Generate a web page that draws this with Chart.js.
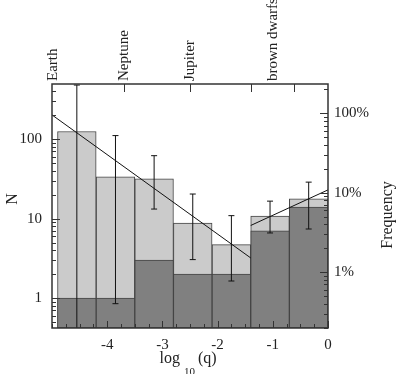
<!DOCTYPE html>
<html>
<head>
<meta charset="utf-8">
<script src="https://cdn.jsdelivr.net/npm/chart.js@4.4.0/dist/chart.umd.min.js"></script>
<style>
  body { margin: 0; background: #fff; }
</style>
</head>
<body>
<canvas id="hist" width="404" height="374"></canvas>
<script>
// histogram bins in log10(q), counts
const binCenters = [-4.55, -3.85, -3.15, -2.45, -1.75, -1.05, -0.35];
const allCounts = [125, 33.6, 31.7, 8.8, 4.7, 10.8, 17.8];
const detectedCounts = [1, 1, 3, 2, 2, 7, 14];
const errLow = [0.3, 0.85, 13.2, 3.05, 1.64, 6.6, 7.4];
const errHigh = [480, 111, 62, 20.4, 10.9, 16.6, 28.8];

// power law fits
const fitLeftX = [-5, -1.4];
const fitLeftY = [202, 3.2];
const fitRightX = [-1.4, 0];
const fitRightY = [8.2, 23];

// axes
const xTicks = [-4, -3, -2, -1, 0];
const nTicks = [1, 10, 100];
const nTickLabels = ['1', '10', '100'];
const freqTicks = [0.01, 0.1, 1];
const freqTickLabels = ['1%', '10%', '100%'];
const massLabels = ['Earth', 'Neptune', 'Jupiter', 'brown dwarfs'];
const massLabelPos = [-4.98, -3.7, -2.5, -1.0];
const massTickPos = [-3.7, -2.5, -1.4, -0.62];
const sampleSize = 212;
const nMin = 0.42;
const nMax = 495;

const serif = "'Liberation Serif', 'DejaVu Serif', serif";
Chart.defaults.font.family = serif;
Chart.defaults.color = '#222';

function logTicks(min, max) {
  const out = [];
  for (let d = Math.floor(Math.log10(min)); d <= Math.ceil(Math.log10(max)); d++) {
    for (let m = 1; m < 10; m++) {
      const v = +(m * Math.pow(10, d)).toPrecision(3);
      if (v >= min && v <= max) out.push({ value: v });
    }
  }
  return out;
}

function quarterTicks() {
  const out = [];
  for (let i = 0; i <= 20; i++) out.push({ value: -5 + i * 0.25 });
  return out;
}

const errData = [];
binCenters.forEach((c, i) => {
  errData.push({ x: c, y: errLow[i] });
  errData.push({ x: c, y: errHigh[i] });
  errData.push({ x: c, y: null });
});

// inward tick marks, frame and axis titles
const frame = {
  id: 'frame',
  afterDatasetsDraw(chart) {
    const { ctx, chartArea: a, scales } = chart;
    ctx.save();
    ctx.strokeStyle = '#333';
    ctx.lineWidth = 1;
    ctx.beginPath();
    scales.x.ticks.forEach(t => {
      const px = Math.round(scales.x.getPixelForValue(t.value)) + 0.5;
      const len = xTicks.includes(t.value) ? 7 : 4;
      ctx.moveTo(px, a.bottom);
      ctx.lineTo(px, a.bottom - len);
    });
    massTickPos.forEach(v => {
      const px = Math.round(scales.x.getPixelForValue(v)) + 0.5;
      ctx.moveTo(px, a.top);
      ctx.lineTo(px, a.top + 8);
    });
    scales.y.ticks.forEach(t => {
      const py = Math.round(scales.y.getPixelForValue(t.value)) + 0.5;
      const len = nTicks.includes(t.value) ? 8 : 4;
      ctx.moveTo(a.left, py);
      ctx.lineTo(a.left + len, py);
    });
    scales.y2.ticks.forEach(t => {
      const py = Math.round(scales.y2.getPixelForValue(t.value)) + 0.5;
      const len = freqTicks.includes(t.value) ? 8 : 4;
      ctx.moveTo(a.right, py);
      ctx.lineTo(a.right - len, py);
    });
    ctx.stroke();
    ctx.lineWidth = 1.5;
    ctx.strokeRect(a.left, a.top, a.right - a.left, a.bottom - a.top);
    ctx.restore();
  },
  afterDraw(chart) {
    const ctx = chart.ctx;
    ctx.save();
    ctx.fillStyle = '#222';
    ctx.textAlign = 'center';
    ctx.textBaseline = 'middle';
    ctx.font = '16px ' + serif;
    ctx.save();
    ctx.translate(13, 199);
    ctx.rotate(-Math.PI / 2);
    ctx.fillText('N', 0, 0);
    ctx.restore();
    ctx.save();
    ctx.translate(388, 215);
    ctx.rotate(-Math.PI / 2);
    ctx.fillText('Frequency', 0, 0);
    ctx.restore();

    // log_10 (q)
    ctx.textAlign = 'left';
    ctx.textBaseline = 'alphabetic';
    ctx.font = '16px ' + serif;
    const w1 = ctx.measureText('log').width;
    const w3 = ctx.measureText('(q)').width;
    ctx.font = '11px ' + serif;
    const w2 = ctx.measureText('10').width;
    const total = w1 + 4 + w2 + 3 + w3;
    let x = 188 - total / 2;
    ctx.font = '16px ' + serif;
    ctx.fillText('log', x, 363);
    x += w1 + 4;
    ctx.font = '11px ' + serif;
    ctx.fillText('10', x, 375);
    x += w2 + 3;
    ctx.font = '16px ' + serif;
    ctx.fillText('(q)', x, 363);
    ctx.restore();
  }
};

new Chart(document.getElementById('hist'), {
  type: 'bar',
  data: {
    datasets: [
      {
        type: 'line',
        label: 'errors',
        data: errData,
        borderColor: '#111',
        borderWidth: 1,
        pointStyle: 'line',
        pointRadius: 3,
        pointBorderColor: '#111',
        pointBorderWidth: 1,
        spanGaps: false,
        order: 0
      },
      {
        type: 'line',
        label: 'fit low',
        data: fitLeftX.map((x, i) => ({ x: x, y: fitLeftY[i] })),
        borderColor: '#111',
        borderWidth: 1,
        pointRadius: 0,
        order: 0
      },
      {
        type: 'line',
        label: 'fit high',
        data: fitRightX.map((x, i) => ({ x: x, y: fitRightY[i] })),
        borderColor: '#111',
        borderWidth: 1,
        pointRadius: 0,
        order: 0
      },
      {
        label: 'detected',
        data: binCenters.map((x, i) => ({ x: x, y: detectedCounts[i] })),
        backgroundColor: '#808080',
        borderColor: '#444',
        borderWidth: 1,
        borderSkipped: false,
        stack: 'hist',
        barThickness: 'flex',
        barPercentage: 1,
        categoryPercentage: 1,
        order: 1
      },
      {
        label: 'all',
        data: binCenters.map((x, i) => ({ x: x, y: allCounts[i] })),
        backgroundColor: '#cbcbcb',
        borderColor: '#444',
        borderWidth: 1,
        borderSkipped: false,
        stack: 'hist',
        barThickness: 'flex',
        barPercentage: 1,
        categoryPercentage: 1,
        order: 2
      }
    ]
  },
  options: {
    responsive: false,
    animation: false,
    layout: { padding: 0 },
    plugins: {
      legend: { display: false },
      tooltip: { enabled: false }
    },
    scales: {
      x: {
        type: 'linear',
        position: 'bottom',
        min: -5,
        max: 0,
        offset: false,
        grid: { display: false, drawTicks: false },
        border: { display: false },
        afterBuildTicks: s => { s.ticks = quarterTicks(); },
        afterFit: s => { s.height = 46; },
        ticks: {
          autoSkip: false,
          maxRotation: 0,
          padding: 8,
          font: { size: 15 },
          callback: v => xTicks.includes(v) ? String(v) : ''
        }
      },
      x2: {
        axis: 'x',
        type: 'linear',
        position: 'top',
        min: -5,
        max: 0,
        offset: false,
        grid: { display: false, drawTicks: false },
        border: { display: false },
        afterBuildTicks: s => { s.ticks = massLabelPos.map(v => ({ value: v })); },
        afterFit: s => { s.height = 84; },
        ticks: {
          autoSkip: false,
          minRotation: 90,
          maxRotation: 90,
          padding: 3,
          labelOffset: 18,
          font: { size: 15 },
          callback: (v, i) => massLabels[i]
        }
      },
      y: {
        type: 'logarithmic',
        position: 'left',
        stacked: false,
        min: nMin,
        max: nMax,
        grid: { display: false, drawTicks: false },
        border: { display: false },
        afterBuildTicks: s => { s.ticks = logTicks(nMin, nMax); },
        afterFit: s => { s.width = 52; },
        ticks: {
          autoSkip: false,
          padding: 10,
          font: { size: 15 },
          callback: v => {
            const k = nTicks.indexOf(v);
            return k >= 0 ? nTickLabels[k] : '';
          }
        }
      },
      y2: {
        type: 'logarithmic',
        position: 'right',
        min: nMin / sampleSize,
        max: nMax / sampleSize,
        grid: { display: false, drawTicks: false },
        border: { display: false },
        afterBuildTicks: s => { s.ticks = logTicks(nMin / sampleSize, nMax / sampleSize); },
        afterFit: s => { s.width = 76; },
        ticks: {
          autoSkip: false,
          padding: 6,
          font: { size: 15 },
          callback: v => {
            const k = freqTicks.indexOf(v);
            return k >= 0 ? freqTickLabels[k] : '';
          }
        }
      }
    }
  },
  plugins: [frame]
});
</script>
</body>
</html>
